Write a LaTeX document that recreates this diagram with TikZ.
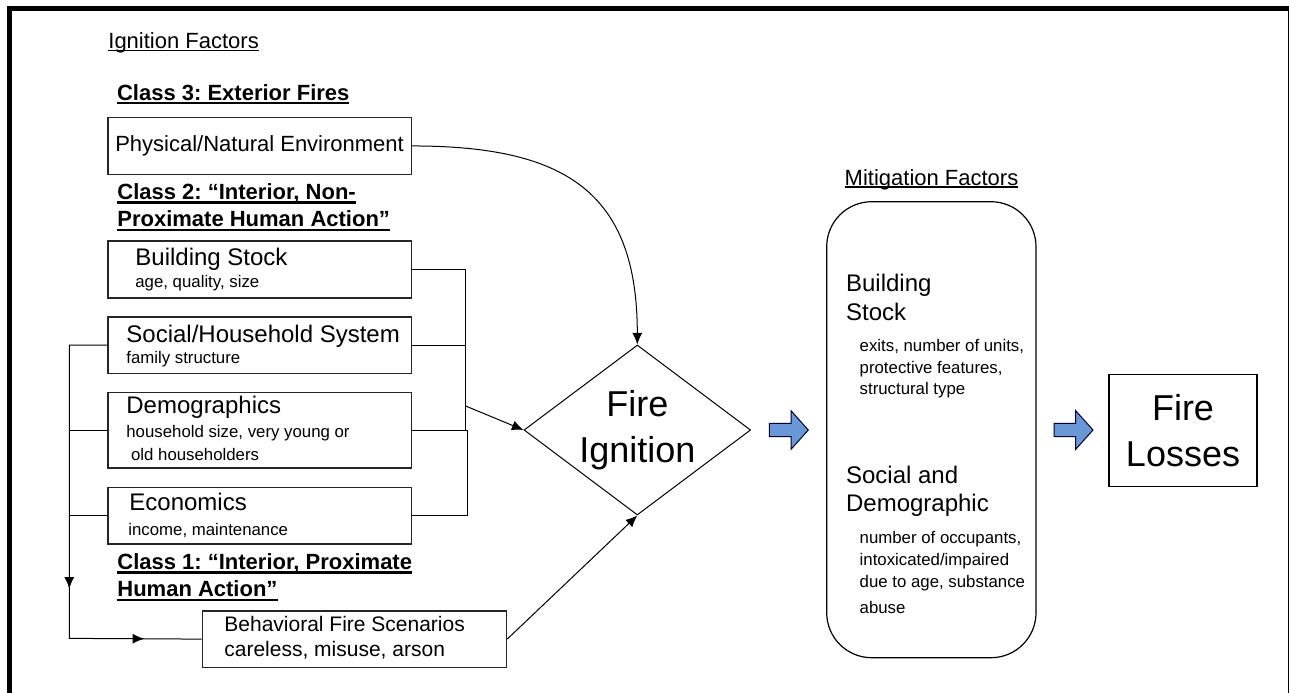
\documentclass[tikz,border=0pt]{standalone}
\usepackage{fontspec}
\setmainfont{Liberation Sans}
\usetikzlibrary{positioning,shapes.geometric,arrows.meta,decorations.markings}
\definecolor{arrowblue}{RGB}{104,153,214}
\frenchspacing
\newcommand{\ulreg}[1]{\setbox0\hbox{#1}\rlap{\rule[-1.3pt]{\wd0}{0.6pt}}\box0}
\newcommand{\ulbf}[1]{\setbox0\hbox{#1}\rlap{\rule[-2.1pt]{\wd0}{1.05pt}}\box0}
\tikzset{
  box/.style={draw=black!85, line width=0.75pt, inner sep=0pt, minimum width=151.85pt, anchor=north west},
  plain/.style={font=\fontsize{11}{13}\selectfont, anchor=base west, inner sep=0pt},
  head/.style={font=\fontsize{11}{13}\selectfont\bfseries, anchor=base west, inner sep=0pt},
  ttl/.style={font=\fontsize{12}{14}\selectfont, anchor=base west, inner sep=0pt},
  sub/.style={font=\fontsize{8.4}{10}\selectfont, anchor=base west, inner sep=0pt},
  beh/.style={font=\fontsize{10.5}{12.5}\selectfont, anchor=base west, inner sep=0pt},
  big/.style={font=\fontsize{18}{22.8}\selectfont, align=center, inner sep=0pt},
  conn/.style={draw=black, line width=0.5pt},
  tip/.style={-{Latex[length=5.8pt,width=5pt]}},
  blockarrow/.style={fill=arrowblue, draw=black!80!blue, line width=0.5pt, line join=miter},
}
\begin{document}
\begin{tikzpicture}[x=0.5pt,y=-0.5pt]
  \useasboundingbox (0,0) rectangle (1289,692);
  \clip (0,0) rectangle (1289,692);
  \draw[line width=2.25pt] (9.3,8.3) rectangle (1290.5,720);

  % ignition factors
  \node[plain] (ignf) at (108,48.3) {\ulreg{Ignition Factors}};
  \node[head] (cls3) at (116.7,100) {\ulbf{Class 3: Exterior Fires}};
  \node[box, minimum height=28.5pt, font=\fontsize{11}{13}\selectfont] (phys) at (107,116.7) {Physical/Natural Environment};
  \node[head] (cls2a) at (117,199.3) {\ulbf{Class 2: “Interior, Non-}};
  \node[head] (cls2b) at (117,226.7) {\ulbf{Proximate Human Action”}};
  \node[box, minimum height=28.5pt] (bstock) at (107,240) {};
  \node[ttl] (bstock-t) at (135,265.7) {Building Stock};
  \node[sub] (bstock-s) at (135,287.3) {age, quality, size};
  \node[box, minimum height=28.35pt] (social) at (107,316) {};
  \node[ttl] (social-t) at (126,342.2) {Social/Household System};
  \node[sub] (social-s) at (126,363.3) {family structure};
  \node[box, minimum height=37.8pt] (demo) at (107,391.7) {};
  \node[ttl] (demo-t) at (126,413.6) {Demographics};
  \node[sub] (demo-s1) at (126,437.3) {household size, very young or};
  \node[sub] (demo-s2) at (130.7,460.7) {old householders};
  \node[box, minimum height=28.3pt] (econ) at (107,486.7) {};
  \node[ttl] (econ-t) at (129,510) {Economics};
  \node[sub] (econ-s) at (128,535) {income, maintenance};
  \node[head] (cls1a) at (117,569.3) {\ulbf{Class 1: “Interior, Proximate}};
  \node[head] (cls1b) at (117,596.7) {\ulbf{Human Action”}};
  \node[box, minimum height=28.35pt, minimum width=152pt] (behav) at (201.7,610) {};
  \node[beh] (behav-t) at (224,631.7) {Behavioral Fire Scenarios};
  \node[beh] (behav-s) at (224,656.7) {careless, misuse, arson};

  % fire ignition
  \node[diamond, draw, line width=0.5pt, aspect=1.333, minimum width=113.3pt, minimum height=85pt, big] (ign) at (637.3,430) {Fire\\Ignition};

  % mitigation factors
  \node[plain] (mitf) at (844.3,185) {\ulreg{Mitigation Factors}};
  \node[draw, line width=0.6pt, rounded corners=22.5pt, minimum width=104.65pt, minimum height=228pt, inner sep=0pt] (mitig) at (931.35,429.7) {};
  \node[ttl] (mb-t1) at (845.7,291.7) {Building};
  \node[ttl] (mb-t2) at (845.7,320.7) {Stock};
  \node[sub] (mb-s1) at (859.3,351.5) {exits, number of units,};
  \node[sub] (mb-s2) at (859.3,373.6) {protective features,};
  \node[sub] (mb-s3) at (859.3,394.3) {structural type};
  \node[ttl] (ms-t1) at (845.7,483.3) {Social and};
  \node[ttl] (ms-t2) at (845.7,511.7) {Demographic};
  \node[sub] (ms-s1) at (859.3,543.5) {number of occupants,};
  \node[sub] (ms-s2) at (859.3,565) {intoxicated/impaired};
  \node[sub] (ms-s3) at (859.3,587) {due to age, substance};
  \node[sub] (ms-s4) at (859.3,613.3) {abuse};

  % fire losses
  \node[draw, line width=0.6pt, minimum width=74pt, minimum height=56pt, big] (loss) at (1183,430.5) {Fire\\Losses};

  % block arrows
  \coordinate (ba1) at (769.3,430);
  \coordinate (ba2) at (1054,430);
  \foreach \c in {ba1,ba2}
    \draw[blockarrow] (\c) ++(0,-6.7) -- ++(21.7,0) -- ++(0,-12.6) -- ++(17.3,19.3)
      -- ++(-17.3,19.3) -- ++(0,-12.6) -- ++(-21.7,0) -- cycle;

  % connectors
  \coordinate (brk) at (465.7,406);
  \coordinate (brk2) at (467.3,472);
  \coordinate (lft) at (69.3,638.35);
  \draw[conn, tip] (phys.east) to[out=0, in=90, looseness=1.3] (ign.north);
  \draw[conn] (bstock.east) -| (brk) |- (demo.east);
  \draw[conn] (social.east) -- (social.east -| brk);
  \draw[conn] (demo.east) -| (brk2) |- (econ.east);
  \draw[conn, tip] (brk) -- (ign.west);
  \draw[conn, postaction=decorate, decoration={markings,
      mark=at position 0.607 with {\arrow{Latex[length=5.8pt,width=5pt]}},
      mark=at position 0.876 with {\arrow{Latex[length=5.8pt,width=5pt]}}}]
    (social.west) -| (lft) -- (behav.west);
  \draw[conn] (demo.west) -- (demo.west -| lft);
  \draw[conn] (econ.west) -- (econ.west -| lft);
  \draw[conn, tip] (behav.east) -- (ign.south);
\end{tikzpicture}
\end{document}
